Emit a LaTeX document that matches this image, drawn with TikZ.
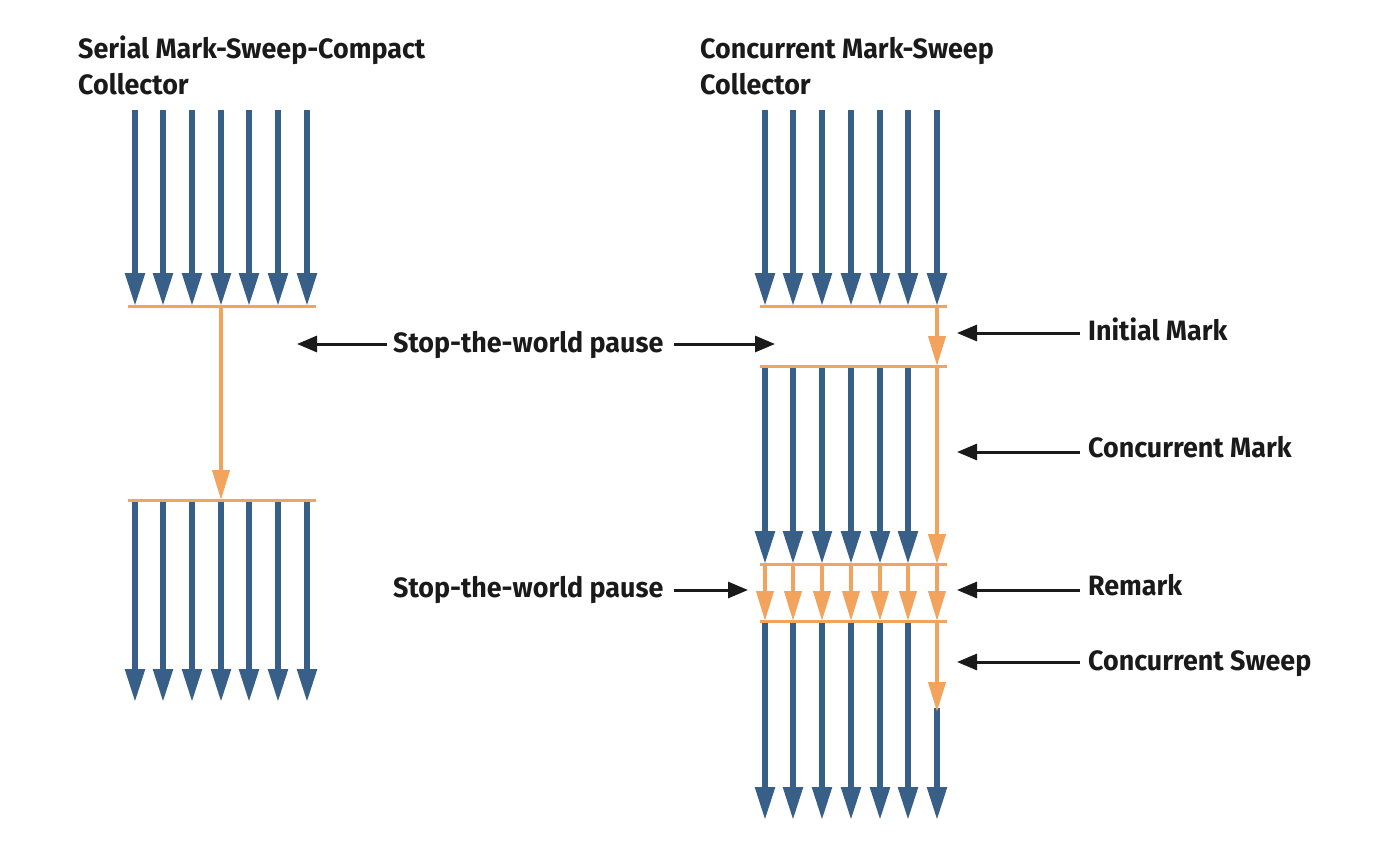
\documentclass[tikz,border=0pt]{standalone}
\usepackage{fontspec}
\setmainfont{Fira Sans}
\newfontfamily\labfont[FakeStretch=0.96]{Fira Sans}
\usetikzlibrary{arrows.meta}
\definecolor{thrblue}{HTML}{375F88}
\definecolor{gcorange}{HTML}{F2A45E}
\definecolor{labblack}{HTML}{1A1A1A}
\tikzset{
  thread/.style={draw=thrblue, line width=5.5pt, -{Triangle[length=33pt,width=19pt]}},
  gcarrow/.style={draw=gcorange, line width=4pt, -{Triangle[length=30pt,width=17pt]}},
  gcbar/.style={draw=gcorange, line width=3pt},
  pointer/.style={draw=labblack, line width=3pt, -{Triangle[length=20pt,width=16pt]}},
  lab/.style={font=\labfont\bfseries\fontsize{28}{34}\selectfont, text=labblack, inner sep=0pt, anchor=base west}
}
\begin{document}
\begin{tikzpicture}[x=1pt,y=-1pt]
\useasboundingbox (0,0) rectangle (1380,840);
% titles
\node[lab] (t1a) at (78,59) {Serial Mark-Sweep-Compact};
\node[lab] (t1b) at (78,95) {Collector};
\node[lab] (t2a) at (700,59) {Concurrent Mark-Sweep};
\node[lab] (t2b) at (700,95) {Collector};
% left collector
\foreach \i/\x in {1/135,2/163,3/192,4/221,5/249,6/278,7/307}{
  \coordinate (la\i) at (\x,110); \coordinate (lb\i) at (\x,306);
  \coordinate (lc\i) at (\x,500); \coordinate (ld\i) at (\x,702);
  \draw[thread] (la\i) -- (lb\i);
  \draw[thread] (lc\i) -- (ld\i);
}
\coordinate (lbar1w) at (128,306); \coordinate (lbar1e) at (316,306);
\coordinate (lbar2w) at (128,500); \coordinate (lbar2e) at (316,500);
\draw[gcbar] (lbar1w) -- (lbar1e);
\draw[gcbar] (lbar2w) -- (lbar2e);
\draw[gcarrow] (lb4) -- (lc4);
% right collector
\coordinate (rcut) at (937,708);
\foreach \i/\x in {1/765,2/793,3/822,4/851,5/880,6/908,7/937}{
  \coordinate (ra\i) at (\x,110); \coordinate (rb\i) at (\x,306);
  \coordinate (rc\i) at (\x,366); \coordinate (rd\i) at (\x,564);
  \coordinate (re\i) at (\x,621); \coordinate (rf\i) at (\x,820);
  \draw[thread] (ra\i) -- (rb\i);
}
\foreach \i in {1,...,6}{
  \draw[thread] (rc\i) -- (rd\i);
  \draw[thread] (re\i) -- (rf\i);
}
\draw[thread] (rcut) -- (rf7);
\draw[gcarrow] (rb7) -- (rc7);
\draw[gcarrow] (rc7) -- (rd7);
\foreach \i in {1,...,7}{ \draw[gcarrow] (rd\i) -- (re\i); }
\draw[gcarrow] (re7) -- ([yshift=-4pt]rcut);
\foreach \y/\n in {306/1,366/2,564/3,621/4}{
  \coordinate (rbar\n w) at (760,\y); \coordinate (rbar\n e) at (947,\y);
  \draw[gcbar] (rbar\n w) -- (rbar\n e);
}
% pause labels
\node[lab] (stw1) at (393,352) {Stop-the-world pause};
\coordinate (stw1l) at (297,344); \coordinate (stw1r) at (775,344);
\draw[pointer] ([xshift=-6pt]stw1.west |- stw1l) -- (stw1l);
\draw[pointer] ([xshift=10pt]stw1.east |- stw1r) -- (stw1r);
\node[lab] (stw2) at (393,597) {Stop-the-world pause};
\coordinate (stw2r) at (748,590);
\draw[pointer] ([xshift=10pt]stw2.east |- stw2r) -- (stw2r);
% phase labels
\node[lab] (im) at (1088,340) {Initial Mark};
\node[lab] (cm) at (1088,457) {Concurrent Mark};
\node[lab] (rm) at (1088,595) {Remark};
\node[lab] (cs) at (1088,670) {Concurrent Sweep};
\coordinate (imt) at (957,333); \coordinate (cmt) at (957,452);
\coordinate (rmt) at (957,590); \coordinate (cst) at (957,662);
\draw[pointer] ([xshift=-8pt]im.west |- imt) -- (imt);
\draw[pointer] ([xshift=-8pt]cm.west |- cmt) -- (cmt);
\draw[pointer] ([xshift=-8pt]rm.west |- rmt) -- (rmt);
\draw[pointer] ([xshift=-8pt]cs.west |- cst) -- (cst);
\end{tikzpicture}
\end{document}
